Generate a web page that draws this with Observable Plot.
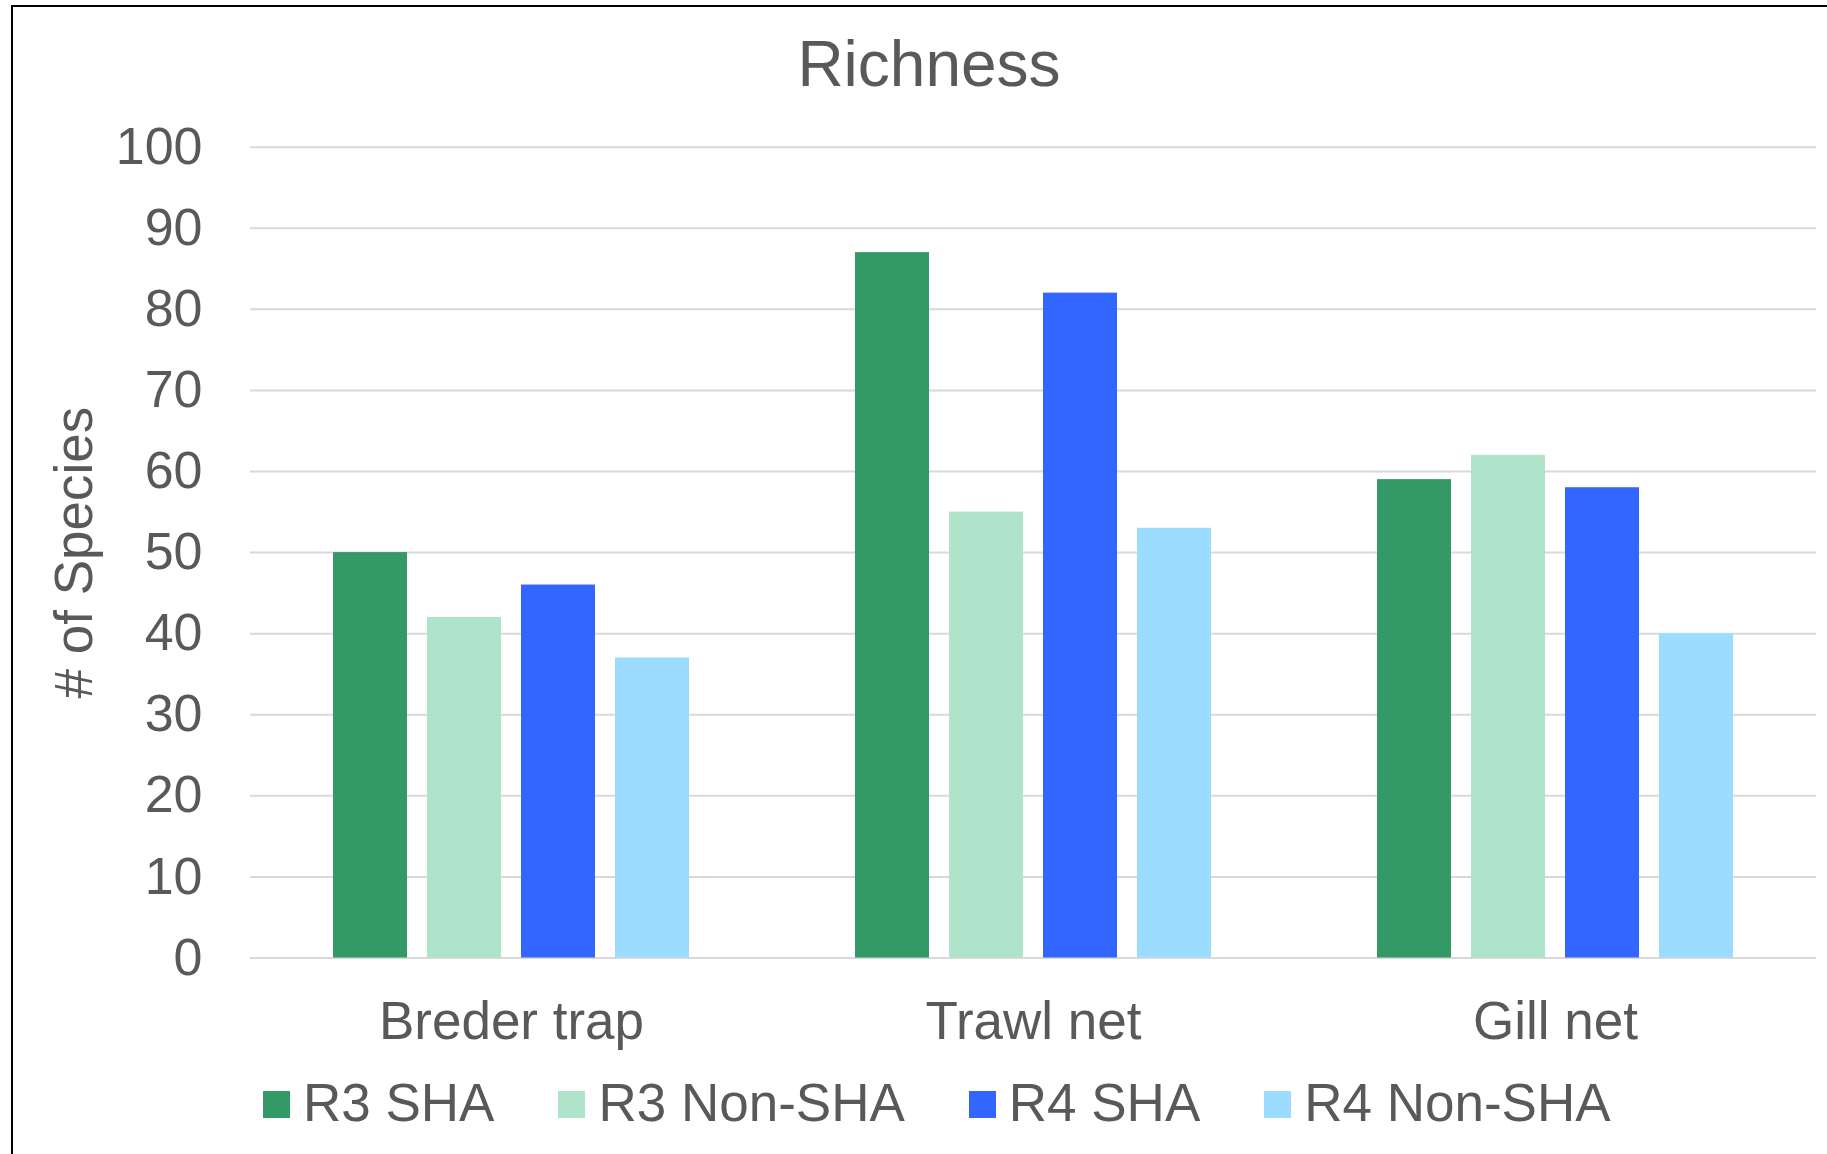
<!DOCTYPE html>
<html>
<head>
<meta charset="utf-8">
<script src="https://cdn.jsdelivr.net/npm/d3@7"></script>
<script src="https://cdn.jsdelivr.net/npm/@observablehq/plot@0.6"></script>
<style>
  html, body { margin: 0; padding: 0; background: #fff; overflow: hidden; }
  #page { position: relative; width: 1827px; height: 1154px; font-family: "Liberation Sans", Arial, sans-serif; color: #595959; }
  #frame { position: absolute; left: 11px; top: 5px; width: 1840px; height: 1170px; border-left: 2px solid #000; border-top: 2px solid #000; }
  #title { position: absolute; left: 0; width: 1858px; top: 32px; text-align: center; font-size: 64px; line-height: 64px; }
  #chart svg { position: absolute; left: 0; top: 110px; }
  #legend { position: absolute; left: 263px; top: 1076px; display: flex; font-size: 53px; line-height: 53px; white-space: nowrap; }
  .item { display: flex; align-items: flex-start; margin-right: 64px; }
  .swatch { width: 27px; height: 27px; margin-top: 15px; margin-right: 13px; }
</style>
</head>
<body>
<div id="page">
  <div id="frame"></div>
  <div id="title">Richness</div>
  <div id="chart"></div>
  <div id="legend"></div>
</div>
<script>
// Fishing gear types (category groups)
const gears = ["Breder trap", "Trawl net", "Gill net"];
// Survey series
const series = ["R3 SHA", "R3 Non-SHA", "R4 SHA", "R4 Non-SHA"];
const seriesColors = ["#339966", "#AFE4CB", "#3366FF", "#9CDDFF"];
// Species richness per gear, one array per series
const r3Sha = [50, 87, 59];
const r3NonSha = [42, 55, 62];
const r4Sha = [46, 82, 58];
const r4NonSha = [37, 53, 40];
const yTicks = [0, 10, 20, 30, 40, 50, 60, 70, 80, 90, 100];

const seriesValues = [r3Sha, r3NonSha, r4Sha, r4NonSha];
const rows = [];
gears.forEach((gear, i) => {
  seriesValues.forEach((vals, j) => rows.push({gear, series: series[j], value: vals[i]}));
});

const chart = Plot.plot({
  width: 1827,
  height: 947.5,
  marginLeft: 250,
  marginRight: 11,
  marginTop: 36.7,
  marginBottom: 100,
  style: {fontFamily: "'Liberation Sans', Arial, sans-serif", color: "#595959", background: "transparent", overflow: "visible"},
  fx: {domain: gears, padding: 0},
  x: {domain: series, paddingInner: 0.215, paddingOuter: 0.86, axis: null},
  y: {domain: [0, 100]},
  color: {domain: series, range: seriesColors},
  marks: [
    Plot.ruleY(yTicks, {stroke: "#D9D9D9", strokeWidth: 2}),
    Plot.barY(rows, {fx: "gear", x: "series", y: "value", fill: "series"}),
    // tick labels
    Plot.axisY({ticks: yTicks, tickSize: 0, tickPadding: 48, fontSize: 52, fill: "#595959", label: null}),
    // axis title
    Plot.axisY({
      ticks: [], fontSize: 53, fill: "#595959",
      label: "# of Species", labelAnchor: "center", labelArrow: "none", labelOffset: 196
    }),
    Plot.axisFx({anchor: "bottom", tickSize: 0, tickPadding: 43, fontSize: 53, fill: "#595959", label: null})
  ]
});
document.getElementById("chart").appendChild(chart);

// Legend built from the same series names and colours
const legend = d3.select("#legend");
series.forEach((name, i) => {
  const item = legend.append("div").attr("class", "item");
  item.append("div").attr("class", "swatch").style("background", seriesColors[i]);
  item.append("div").text(name);
});
</script>
</body>
</html>
